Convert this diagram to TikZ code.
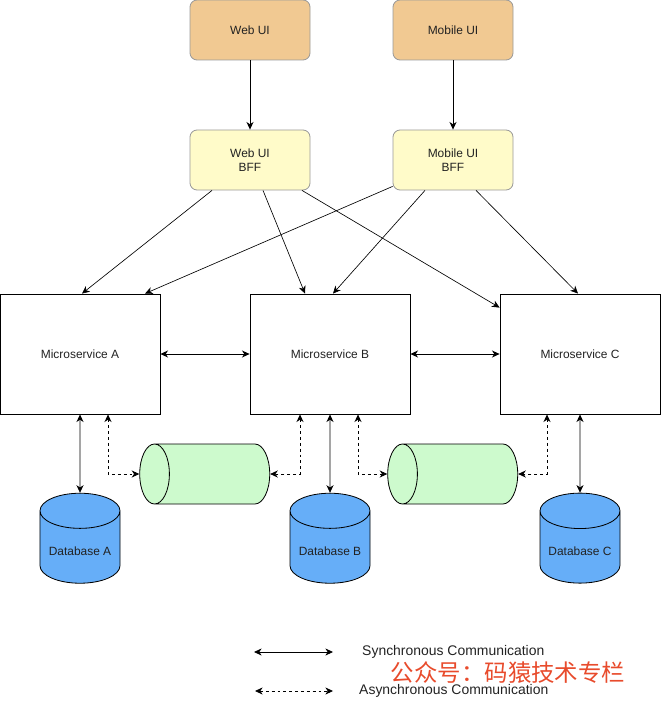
\documentclass[tikz,border=0pt]{standalone}
\usepackage{fontspec}
\setmainfont{Liberation Sans}
\newfontfamily\cjkfont{Noto Sans CJK SC}
\usetikzlibrary{shapes.geometric,arrows.meta,calc}

\definecolor{uifill}{HTML}{F1C992}
\definecolor{bfffill}{HTML}{FFFBC9}
\definecolor{queuefill}{HTML}{CDFACD}
\definecolor{dbfill}{HTML}{66AEF8}
\definecolor{markred}{HTML}{E84B2C}
\definecolor{inkgray}{HTML}{222222}

\newcommand\boxfont{\fontsize{10.2pt}{12.4pt}\selectfont}
\newcommand\keyfont{\fontsize{11.9pt}{14pt}\selectfont}

\tikzset{
  uibox/.style={draw=gray!80, fill=uifill, rounded corners=6pt,
    minimum width=3.6cm, minimum height=1.8cm, align=center,
    font=\boxfont, text=inkgray, line width=0.7pt},
  bffbox/.style={uibox, fill=bfffill},
  msbox/.style={draw, fill=white, minimum width=4.8cm, minimum height=3.6cm,
    font=\boxfont, text=inkgray, line width=0.7pt},
  dbcyl/.style={cylinder, shape border rotate=90, aspect=0.5, draw, fill=dbfill,
    minimum width=2.4cm, minimum height=2.7cm, font=\boxfont, text=inkgray,
    line width=0.7pt},
  queuecyl/.style={cylinder, shape border rotate=180, aspect=3.8, draw, fill=queuefill,
    minimum width=1.8cm, minimum height=3.9cm, line width=0.7pt},
  sync/.style={<->, line width=0.7pt},
  async/.style={<->, line width=0.7pt, dash pattern=on 2.5pt off 2.5pt},
  call/.style={->, line width=0.55pt},
}

\begin{document}
\begin{tikzpicture}[>={Stealth[length=6.5pt,width=6pt,inset=2pt]}]
  \def\x{0.03}
  \def\y{-0.03}
  \useasboundingbox (0,0) rectangle (661*\x, 704*\y);
  % clients and their backends
  \node[uibox] (UI_0) at (250*\x, 30*\y) {Web UI};
  \node[uibox] (UI_1) at (453*\x, 30*\y) {Mobile UI};
  \node[bffbox] (BFF_0) at (250*\x, 160*\y) {Web UI\\BFF};
  \node[bffbox] (BFF_1) at (453*\x, 160*\y) {Mobile UI\\BFF};
  % services
  \node[msbox] (MS_0) at (80*\x, 354*\y) {Microservice A};
  \node[msbox] (MS_1) at (330*\x, 354*\y) {Microservice B};
  \node[msbox] (MS_2) at (580*\x, 354*\y) {Microservice C};
  % queues and stores
  \node[queuecyl] (Q_0) at (216*\x, 474*\y) {};
  \node[queuecyl] (Q_1) at (464*\x, 474*\y) {};
  \node[dbcyl] (DB_0) at (80*\x, 551*\y) {Database A};
  \node[dbcyl] (DB_1) at (330*\x, 551*\y) {Database B};
  \node[dbcyl] (DB_2) at (580*\x, 551*\y) {Database C};
  \path (UI_0) edge [->, line width=0.7pt] (BFF_0);
  \path (UI_1) edge [->, line width=0.7pt] (BFF_1);
  \path ($(BFF_0.south)+(-38*\x,0)$) edge [call] ($(MS_0.north)+(2*\x,0)$);
  \path ($(BFF_0.south)+(13*\x,0)$) edge [call] ($(MS_1.north)+(-25*\x,0)$);
  \path ($(BFF_0.south)+(52*\x,0)$) edge [call] ($(MS_2.north west)+(0,14*\y)$);
  \path ($(BFF_1.south west)+(0,-4*\y)$) edge [call] ($(MS_0.north)+(65*\x,0)$);
  \path ($(BFF_1.south)+(-28*\x,0)$) edge [call] ($(MS_1.north)+(3*\x,0)$);
  \path ($(BFF_1.south)+(23*\x,0)$) edge [call] ($(MS_2.north)+(-2*\x,0)$);
  \path (MS_0) edge [sync] (MS_1);
  \path (MS_1) edge [sync] (MS_2);
  \path (MS_0.south) edge [sync] (DB_0.north);
  \path (MS_1.south) edge [sync] (DB_1.north);
  \path (MS_2.south) edge [sync] (DB_2.north);
  \draw[async] ($(MS_0.south)+(28*\x,0)$) |- (Q_0.west);
  \draw[async] ($(MS_1.south)+(-30*\x,0)$) |- (Q_0.east);
  \draw[async] ($(MS_1.south)+(28*\x,0)$) |- (Q_1.west);
  \draw[async] ($(MS_2.south)+(-33*\x,0)$) |- (Q_1.east);
  % legend
  \coordinate (K0_0) at (254*\x, 652*\y);
  \coordinate (K0_1) at (333*\x, 652*\y);
  \coordinate (K1_0) at (255*\x, 691*\y);
  \coordinate (K1_1) at (333*\x, 691*\y);
  \path (K0_0) edge [sync] (K0_1);
  \path (K1_0) edge [async] (K1_1);
  \node[anchor=west, font=\keyfont, text=inkgray, inner sep=0pt] (T_0) at (362*\x, 652*\y) {Synchronous Communication};
  \node[anchor=west, font=\keyfont, text=inkgray, inner sep=0pt] (T_1) at (359*\x, 691*\y) {Asynchronous Communication};
  \node[font=\cjkfont\fontsize{20pt}{22pt}\selectfont, text=markred, inner sep=0pt] (W) at (508*\x, 673*\y) {公众号：码猿技术专栏};
\end{tikzpicture}
\end{document}
